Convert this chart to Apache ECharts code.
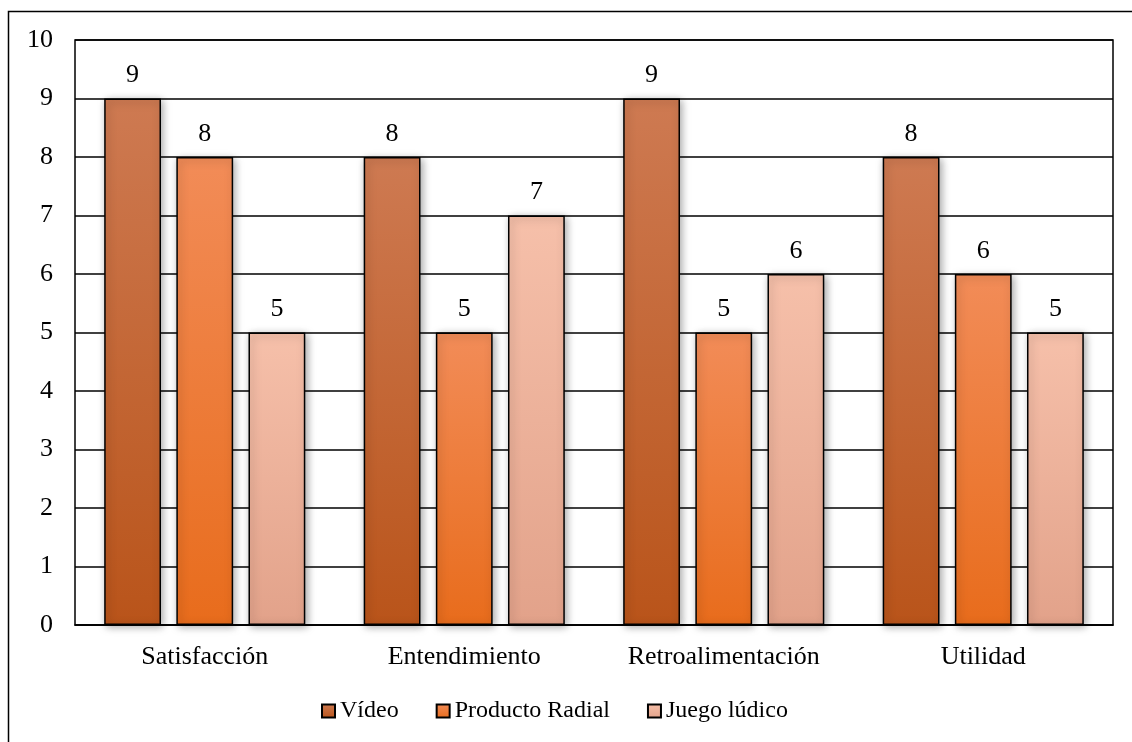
<!DOCTYPE html>
<html>
<head>
<meta charset="utf-8">
<script src="https://cdn.jsdelivr.net/npm/echarts@6/dist/echarts.min.js"></script>
<style>
  html, body { margin: 0; padding: 0; background: #fff; }
  #chart { width: 1132px; height: 742px; }
</style>
</head>
<body>
<div id="chart"></div>
<script>
const categories = ['Satisfacción', 'Entendimiento', 'Retroalimentación', 'Utilidad']
const video = [9, 8, 9, 8]
const radial = [8, 5, 5, 6]
const juego = [5, 7, 6, 5]

const font = 'Liberation Serif, Times New Roman, serif'

function grad(top, bottom) {
  return new echarts.graphic.LinearGradient(0, 0, 0, 1, [
    { offset: 0, color: top },
    { offset: 1, color: bottom }
  ])
}

function bar(name, data, top, bottom) {
  return {
    name: name,
    type: 'bar',
    data: data,
    barGap: '27%',
    barCategoryGap: '22.5%',
    itemStyle: {
      color: grad(top, bottom),
      borderColor: '#000',
      borderWidth: 1.5,
      shadowBlur: 8,
      shadowColor: 'rgba(0,0,0,0.35)',
      shadowOffsetX: 2,
      shadowOffsetY: 2
    },
    label: {
      show: true,
      position: 'top',
      distance: 10,
      color: '#000',
      fontFamily: font,
      fontSize: 26
    }
  }
}

let myChart = echarts.init(document.getElementById('chart'))
myChart.setOption({
  animation: false,
  graphic: [{
    type: 'rect',
    shape: { x: 8.5, y: 11.5, width: 1140, height: 760 },
    style: { fill: 'none', stroke: '#000', lineWidth: 1.5 }
  }],
  grid: {
    left: 75,
    right: 19,
    top: 40,
    bottom: 117,
    show: true,
    borderColor: '#000',
    borderWidth: 1.5
  },
  legend: {
    bottom: 14,
    left: 316,
    icon: 'rect',
    itemWidth: 13,
    itemHeight: 13,
    itemGap: 37,
    textStyle: { fontFamily: font, fontSize: 24, color: '#000' },
    data: ['Vídeo', 'Producto Radial', 'Juego lúdico']
  },
  xAxis: {
    type: 'category',
    data: categories,
    axisLine: { lineStyle: { color: '#000', width: 1.5 } },
    axisTick: { show: false },
    axisLabel: { fontFamily: font, fontSize: 26, color: '#000', margin: 19 }
  },
  yAxis: {
    type: 'value',
    min: 0,
    max: 10,
    interval: 1,
    axisLine: { show: false },
    axisTick: { show: false },
    axisLabel: { fontFamily: font, fontSize: 26, color: '#000', margin: 22 },
    splitLine: { lineStyle: { color: '#000', width: 1.5 } }
  },
  series: [
    bar('Vídeo', video, '#CE7A52', '#B9541A'),
    bar('Producto Radial', radial, '#F28C58', '#E86C1C'),
    bar('Juego lúdico', juego, '#F6C0AA', '#E2A28A')
  ]
})
</script>
</body>
</html>
